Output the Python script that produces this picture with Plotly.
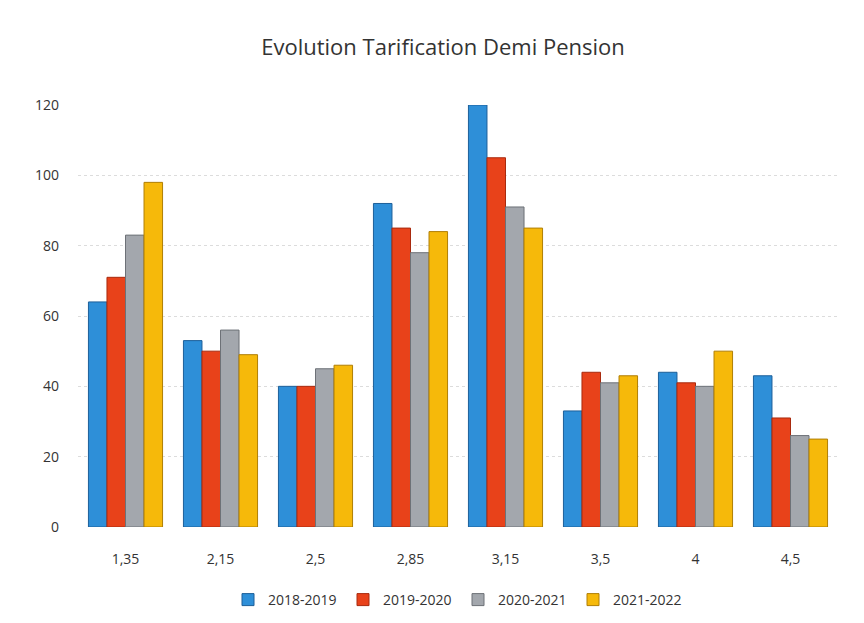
import plotly.graph_objects as go

categories = ["1,35", "2,15", "2,5", "2,85", "3,15", "3,5", "4", "4,5"]
series_names = ["2018-2019", "2019-2020", "2020-2021", "2021-2022"]
v_2018_2019 = [64, 53, 40, 92, 120, 33, 44, 43]
v_2019_2020 = [71, 50, 40, 85, 105, 44, 41, 31]
v_2020_2021 = [83, 56, 45, 78, 91, 41, 40, 26]
v_2021_2022 = [98, 49, 46, 84, 85, 43, 50, 25]
y_ticks = [0, 20, 40, 60, 80, 100, 120]

colors = ["#2e8fd8", "#e8421a", "#a3a7ad", "#f6b90a"]
edges = ["#1d5f99", "#a82a0e", "#6d7177", "#b07e05"]
values = [v_2018_2019, v_2019_2020, v_2020_2021, v_2021_2022]

fig = go.Figure()
for name, vals, c, e in zip(series_names, values, colors, edges):
    fig.add_trace(go.Bar(
        x=categories, y=vals, name=name,
        marker=dict(color=c, line=dict(color=e, width=1)),
    ))

fig.update_layout(
    width=864, height=623,
    paper_bgcolor="white", plot_bgcolor="white",
    barmode="group", bargap=0.22, bargroupgap=0.0,
    margin=dict(l=70, r=34, t=97, b=104),
    title=dict(text="Evolution Tarification Demi Pension", x=(443 - 8) / 864, xanchor="center",
               y=1 - 39 / 623, yanchor="middle",
               font=dict(family="Open Sans, Lato, sans-serif", size=22, color="#333333")),
    font=dict(family="Open Sans, Lato, sans-serif", size=14, color="#333333"),
    legend=dict(orientation="h", x=0.5, xanchor="center", y=-0.173, yanchor="middle",
                font=dict(size=14, color="#333333"), itemwidth=30, traceorder="normal",
                entrywidth=70, entrywidthmode="pixels"),
    showlegend=True,
)
fig.update_yaxes(range=[0, 120], tickvals=y_ticks, showgrid=True, gridcolor="#dcdcdc",
                 griddash="dot", zeroline=False, showline=False, ticklabelstandoff=18)
fig.update_xaxes(showgrid=False, showline=False, ticks="", ticklabelstandoff=22)

fig.write_html("out.html")
